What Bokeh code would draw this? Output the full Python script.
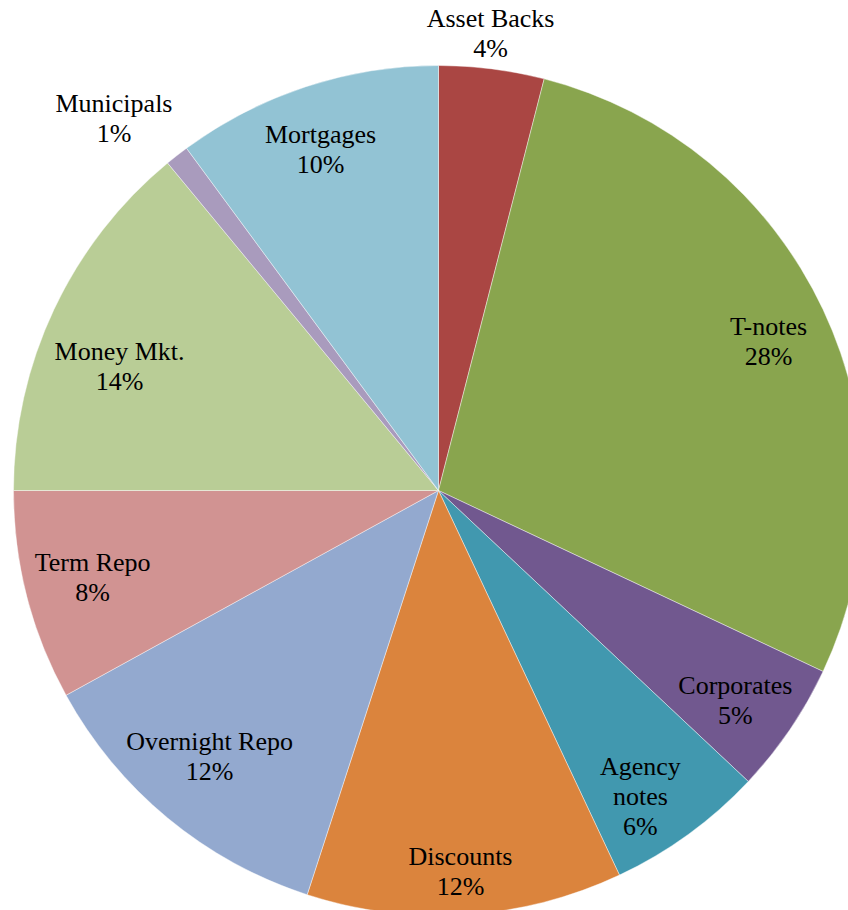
import math
from bokeh.plotting import figure
from bokeh.models import Range1d, ColumnDataSource
from bokeh.core.properties import value
from bokeh.embed import file_html
from bokeh.resources import INLINE

# ---- data ----
categories = ["Asset Backs", "T-notes", "Corporates", "Agency notes", "Discounts",
              "Overnight Repo", "Term Repo", "Money Mkt.", "Municipals", "Mortgages"]
values = [4, 28, 5, 6, 12, 12, 8, 14, 0.9, 10.1]
pct_labels = ["4%", "28%", "5%", "6%", "12%", "12%", "8%", "14%", "1%", "10%"]

# ---- style ----
colors = ["#AA4643", "#89A54E", "#71588F", "#4198AF", "#DB843D",
          "#93A9CF", "#D19392", "#B9CD96", "#A99BBD", "#92C3D4"]
label_radius = [1.082, 0.852, 0.856, 0.863, 0.898, 0.826, 0.839, 0.805, 1.162, 0.849]
label_angle_shift = [-0.7, 0.9, 1.1, 2.6, 0.3, 1.1, 0.3, -4.0, -3.1, -0.9]  # degrees, clockwise
wrap = {"Agency notes": ["Agency", "notes"]}
LINE_SPACING = 30

W, H = 848, 910
CX, CY, R = 438, 490, 425

total = sum(values)
starts, ends = [], []
tx, ty, tt = [], [], []
cum = 0.0
for cat, v, pl, lr, sh in zip(categories, values, pct_labels, label_radius, label_angle_shift):
    a0 = math.pi / 2 - 2 * math.pi * cum / total
    cum += v
    a1 = math.pi / 2 - 2 * math.pi * cum / total
    starts.append(a0)
    ends.append(a1)
    mid = (a0 + a1) / 2 - math.radians(sh)
    cx = lr * R * math.cos(mid)
    cy = lr * R * math.sin(mid)
    lines = wrap.get(cat, [cat]) + [pl]
    n = len(lines)
    for i, line in enumerate(lines):
        tx.append(cx)
        ty.append(cy + ((n - 1) / 2 - i) * LINE_SPACING)
        tt.append(line)

src = ColumnDataSource(dict(start=starts, end=ends, color=colors, cat=categories))
lsrc = ColumnDataSource(dict(x=tx, y=ty, text=tt))

p = figure(width=W, height=H, output_backend="svg", toolbar_location=None,
           x_range=Range1d(-CX, W - CX), y_range=Range1d(CY - H, CY),
           min_border=0, outline_line_color=None)
p.axis.visible = False
p.grid.visible = False
p.background_fill_color = "white"

p.wedge(x=0, y=0, radius=R, start_angle="start", end_angle="end", direction="clock",
        fill_color="color", line_color="white", line_width=0.6, line_alpha=0.7, source=src)

p.text(x="x", y="y", text="text", source=lsrc, text_align="center", text_baseline="middle",
       text_font=value("Liberation Serif"), text_font_size="26px", text_color="black")

open("out.html", "w").write(file_html(p, INLINE))
